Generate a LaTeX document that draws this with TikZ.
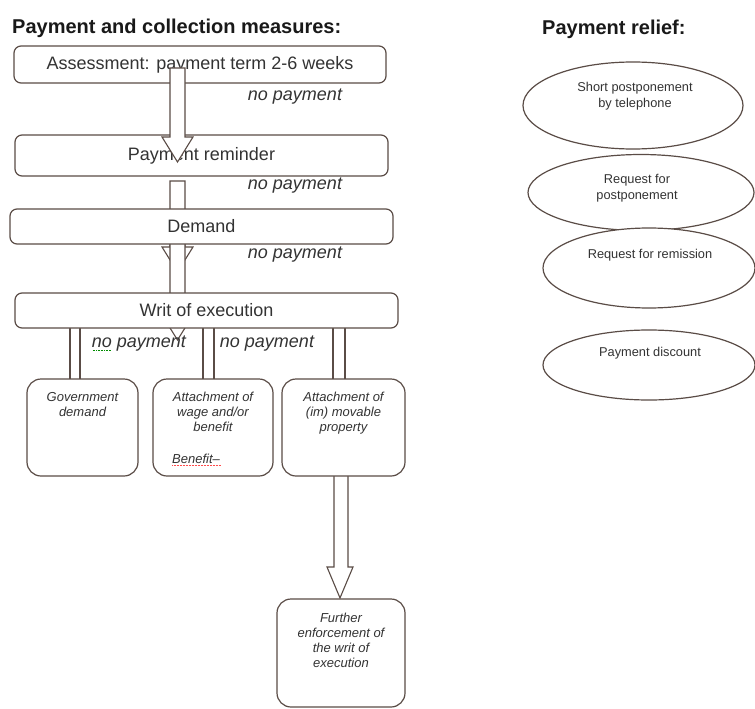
\documentclass[tikz,border=0pt]{standalone}
\usepackage{fontspec}
\setmainfont{Liberation Sans}
\usetikzlibrary{shapes.geometric,calc}
\definecolor{edge}{HTML}{5A4C46}
\definecolor{txt}{HTML}{333333}
\begin{document}
\begin{tikzpicture}[x=1pt,y=-1pt,
  wide/.style={draw=edge, line width=1.2pt, rounded corners=7pt, fill=white, inner sep=0pt, font=\fontsize{18}{21}\selectfont, text=txt},
  sub/.style={draw=edge, line width=1.2pt, rounded corners=14pt, fill=white, inner sep=0pt},
  subtext/.style={font=\fontsize{13}{15}\selectfont\itshape, text=txt, align=center, anchor=north, inner sep=0pt},
  oval/.style={ellipse, draw=edge, line width=1.2pt, fill=white, inner sep=0pt},
  ovaltext/.style={font=\fontsize{12.8}{16}\selectfont, text=txt, align=center, inner sep=0pt},
  nopay/.style={font=\fontsize{18}{21}\selectfont\itshape, text=txt, inner sep=0pt},
  blockarrow/.style={draw=edge, line width=1.1pt, fill=white, line join=miter},
  title/.style={font=\fontsize{20}{23}\selectfont\bfseries, text=black!90, anchor=west, inner sep=0pt}
]
\useasboundingbox[fill=white] (0,0) rectangle (755,709);

% titles
\node[title] (t1) at (12,28) {Payment and collection measures:};
\node[title] (t2) at (542,29) {Payment relief:};

% arrows partly hidden behind boxes
\draw[blockarrow] (170,181) -- (185,181) -- (185,247) -- (193,247) -- (177.5,272) -- (162,247) -- (170,247) -- cycle;
\draw[blockarrow] (170,240) -- (185,240) -- (185,315) -- (193,315) -- (177.5,340) -- (162,315) -- (170,315) -- cycle;
\draw[blockarrow] (70,320) rectangle (80,385);
\draw[blockarrow] (203,320) rectangle (214,385);
\draw[blockarrow] (333,320) rectangle (345,385);
\draw[blockarrow] (334,470) -- (348,470) -- (348,567) -- (353,567) -- (340,598) -- (327,567) -- (334,567) -- cycle;

% main boxes
\node[wide, minimum width=372pt, minimum height=37pt] (b1) at (200,64.5) {Assessment: payment term 2-6 weeks};
\node[wide, minimum width=373pt, minimum height=41pt] (b2) at (201.5,155.5) {Payment reminder};
\node[wide, minimum width=383pt, minimum height=35pt] (b3) at (201.5,226.5) {Demand};
\node[wide, minimum width=383pt, minimum height=35pt] (b4) at (206.5,310.5) {Writ of execution};

% sub boxes
\node[sub, minimum width=111pt, minimum height=97pt] (g) at (82.5,427.5) {};
\node[sub, minimum width=120pt, minimum height=97pt] (w) at (213,427.5) {};
\node[sub, minimum width=123pt, minimum height=97pt] (m) at (343.5,427.5) {};
\node[sub, minimum width=128pt, minimum height=108pt] (f) at (341,653) {};

% top arrow drawn over the boxes
\draw[blockarrow] (170,68) -- (185,68) -- (185,137) -- (193,137) -- (177.5,162) -- (162,137) -- (170,137) -- cycle;

% no payment labels
\node[nopay] (n1) at (295,97) {no payment};
\node[nopay] (n2) at (295,186) {no payment};
\node[nopay] (n3) at (295,255) {no payment};
\node[nopay] (n4) at (139,344) {no payment};
\node[nopay] (n5) at (267,344) {no payment};
\draw[green!55!black, line width=0.6pt, densely dotted] ([xshift=1pt,yshift=-2.5pt]n4.base west) -- ++(19,0);

% sub box texts
\node[subtext] (gt) at (82.5,392) {Government\\demand};
\node[subtext] (wt) at (213,392) {Attachment of\\wage and/or\\benefit};
\node[subtext, anchor=west] (wb) at (172,459) {Benefit–};
\draw[red!70, line width=0.5pt, densely dotted] ([yshift=-2pt]wb.base west) -- ([yshift=-2pt]wb.base east);
\node[subtext] (mt) at (343.5,392) {Attachment of\\(im) movable\\property};
\node[subtext] (ft) at (341,613) {Further\\enforcement of\\the writ of\\execution};

% ellipses
\node[oval, minimum width=220pt, minimum height=87pt] (e1) at (633,105.5) {};
\node[oval, minimum width=226pt, minimum height=76pt] (e2) at (641,192.5) {};
\node[oval, minimum width=212pt, minimum height=80pt] (e3) at (649,268) {};
\node[oval, minimum width=212pt, minimum height=70pt] (e4) at (649,365) {};
\node[ovaltext] (et1) at (635,96) {Short postponement\\by telephone};
\node[ovaltext] (et2) at (637,188.5) {Request for\\postponement};
\node[ovaltext] (et3) at (650,255) {Request for remission};
\node[ovaltext] (et4) at (650,353) {Payment discount};
\end{tikzpicture}
\end{document}
